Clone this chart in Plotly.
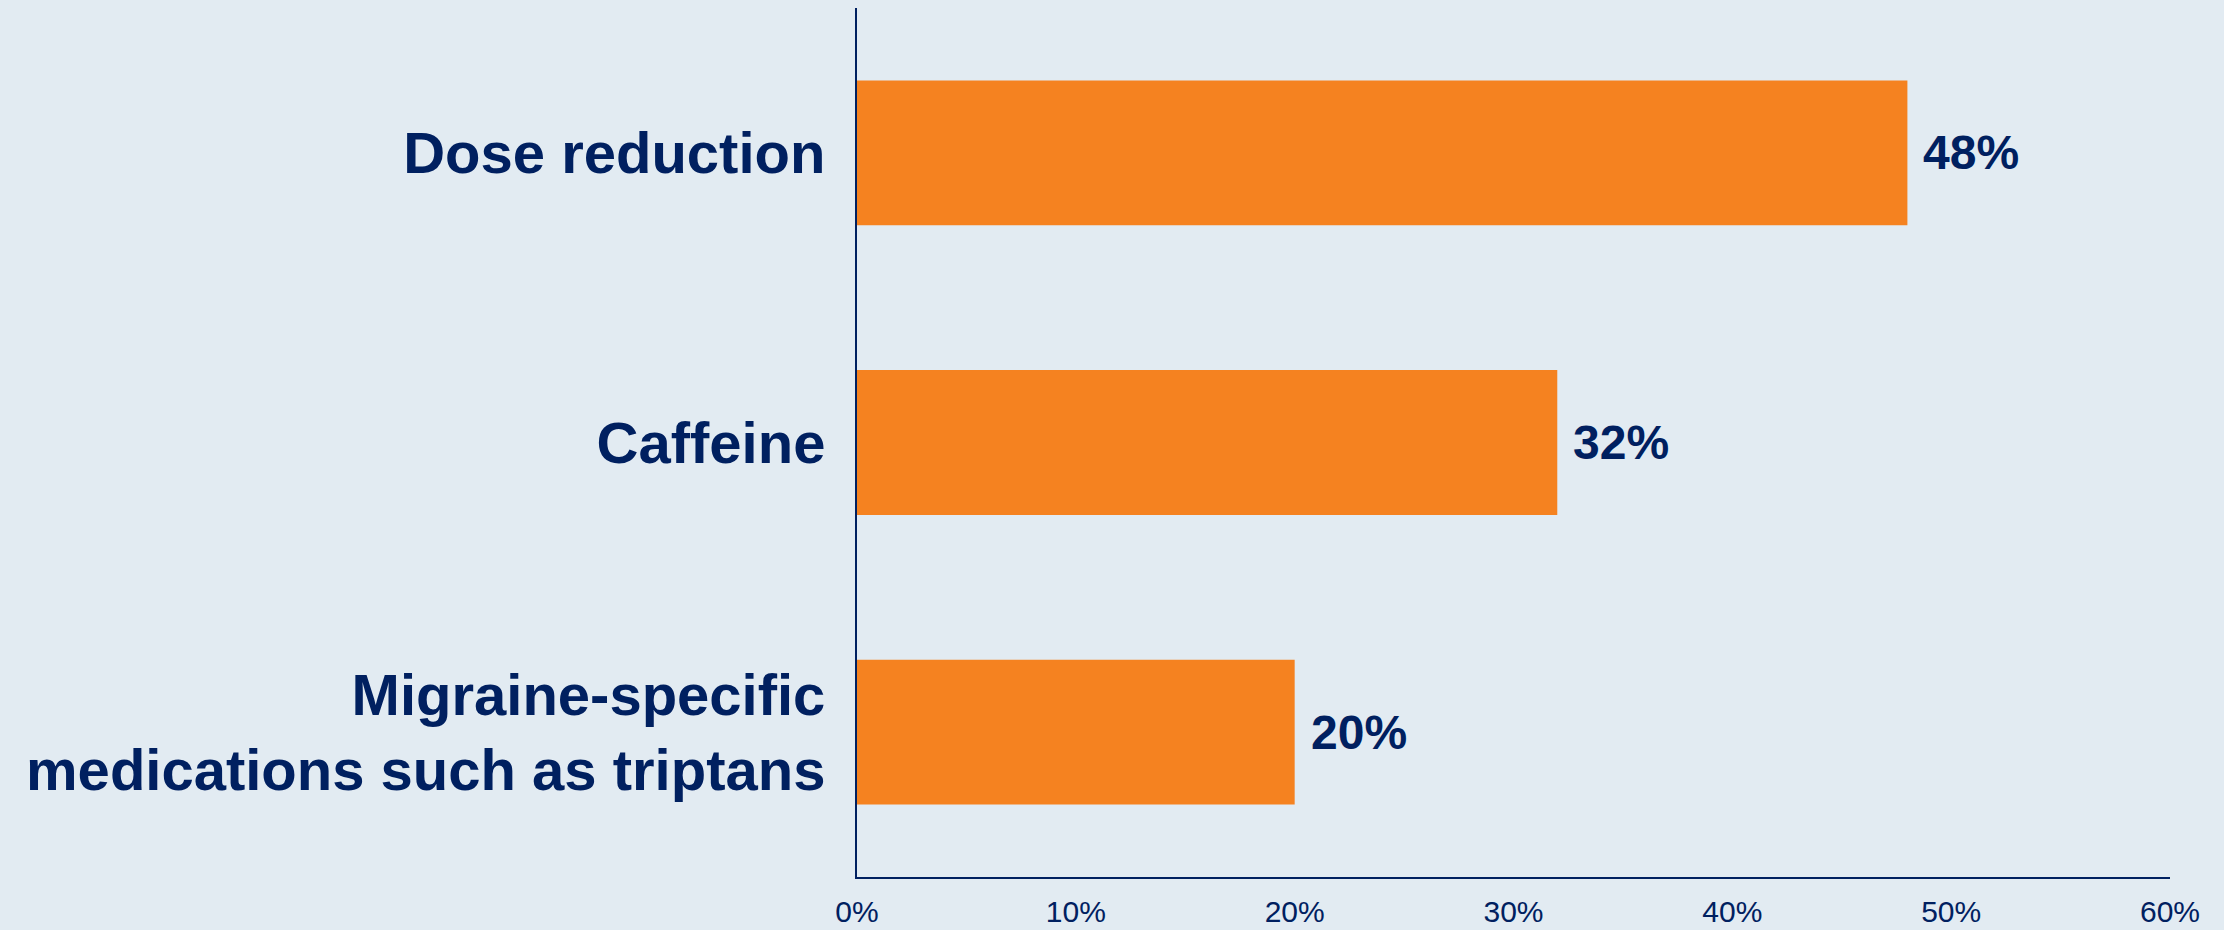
import plotly.graph_objects as go

categories = ["Dose reduction", "Caffeine", "Migraine-specific<br>medications such as triptans"]
values = [48, 32, 20]
value_labels = ["48%", "32%", "20%"]
x_ticks = [0, 10, 20, 30, 40, 50, 60]
x_tick_labels = ["0%", "10%", "20%", "30%", "40%", "50%", "60%"]

NAVY = "#002060"
ORANGE = "#F58220"
BG = "#E2EBF2"
FONT = "Liberation Sans, Arial, sans-serif"

fig = go.Figure()
fig.add_trace(go.Bar(
    x=values, y=categories, orientation="h",
    marker=dict(color=ORANGE, line=dict(width=0)),
    hoverinfo="skip",
))

for v, c, t in zip(values, categories, value_labels):
    fig.add_annotation(
        x=v, y=c, text="<b>" + t + "</b>", showarrow=False,
        xanchor="left", yanchor="middle", xshift=14,
        font=dict(family=FONT, size=48, color=NAVY),
    )

fig.update_layout(
    width=2224, height=930,
    paper_bgcolor=BG, plot_bgcolor=BG,
    margin=dict(l=857, r=54, t=8, b=53, autoexpand=False),
    bargap=0.5,
    showlegend=False,
    font=dict(family=FONT, color=NAVY),
)
fig.update_xaxes(
    range=[0, 60], tickvals=x_ticks, ticktext=x_tick_labels,
    showgrid=False, zeroline=False, automargin=False,
    showline=True, linecolor=NAVY, linewidth=2,
    ticks="", tickfont=dict(family=FONT, size=30, color=NAVY),
    ticklabelstandoff=7,
)
fig.update_yaxes(
    autorange="reversed",
    tickvals=categories, ticktext=["<b>" + c + "</b>" for c in categories],
    showgrid=False, zeroline=False, automargin=False,
    showline=True, linecolor=NAVY, linewidth=2,
    ticks="", tickfont=dict(family=FONT, size=58, color=NAVY),
    ticklabelstandoff=18,
)

fig.write_html(
    "out.html",
    config={"displayModeBar": False},
    post_script="document.body.style.margin='0';document.body.style.overflow='hidden';",
)
